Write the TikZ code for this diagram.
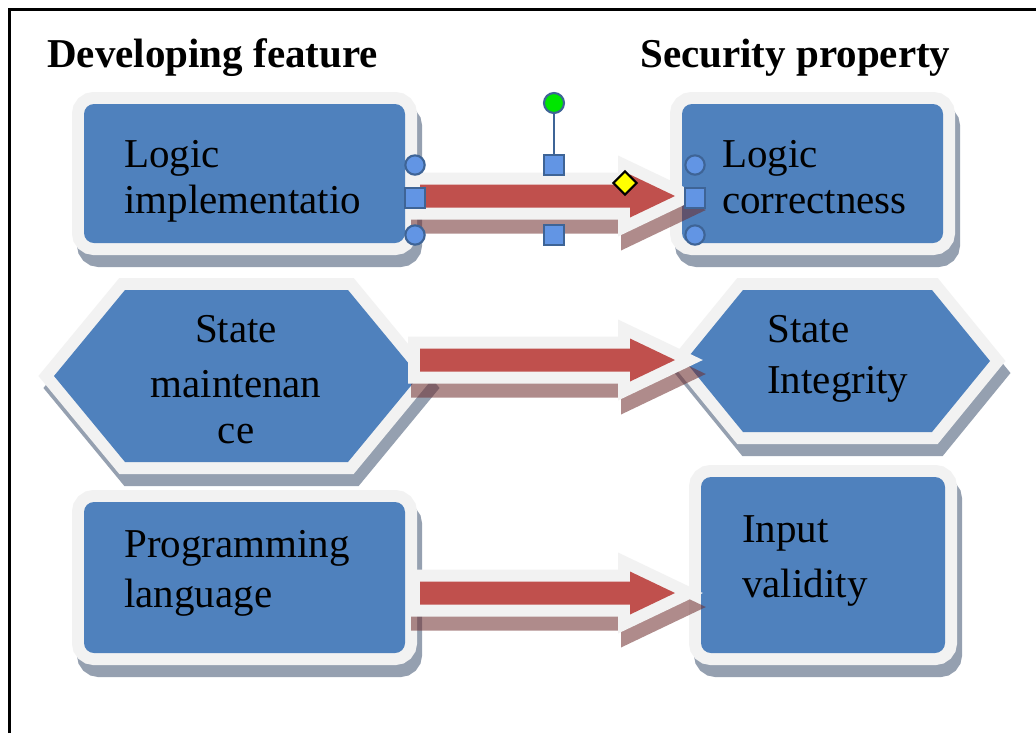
\documentclass[tikz,border=0pt]{standalone}
\usepackage{fontspec}
\setmainfont{Liberation Serif}
\usetikzlibrary{calc,fit,shapes.geometric}
\definecolor{boxblue}{RGB}{79,129,189}
\definecolor{arrred}{RGB}{192,80,77}
\definecolor{rimwhite}{RGB}{242,242,242}
\definecolor{boxshadow}{RGB}{149,160,176}
\definecolor{arrshadow}{RGB}{110,45,45}
\definecolor{hfill}{RGB}{98,149,228}
\definecolor{hborder}{RGB}{62,100,150}
\definecolor{rotgreen}{RGB}{0,230,0}
\definecolor{adjyellow}{RGB}{255,255,0}
\tikzset{
  blueshape/.style={fill=boxblue,
     preaction={fill=boxshadow, draw=boxshadow, line width=18pt, transform canvas={shift={(5,12)}}},
     preaction={draw=rimwhite, line width=18pt}},
  roundbox/.style={blueshape, rounded corners=7.5pt, inner sep=0pt, draw=none},
  boxtext/.style={inner sep=0pt, anchor=base west, font=\fontsize{30.75}{34.5}\selectfont},
  headtext/.style={inner sep=0pt, anchor=base west, font=\bfseries\fontsize{30.75}{34.5}\selectfont},
  hcirc/.style={circle, fill=hfill, draw=hborder, line width=1.6pt, minimum size=14.5pt, inner sep=0pt},
  hsq/.style={rectangle, fill=hfill, draw=hborder, line width=1.6pt, minimum size=15pt, inner sep=0pt},
  hrot/.style={circle, fill=rotgreen, draw=hborder, line width=1.6pt, minimum size=15pt, inner sep=0pt},
  hadj/.style={diamond, fill=adjyellow, draw=black, line width=1.6pt, minimum width=18pt, minimum height=18pt, inner sep=0pt},
  frame/.style={line width=2.25pt, black}
}
\newcommand\blockarrow[2]{%
  \fill[arrshadow, opacity=.55] ($(#1)+(-9,-9.5)$) -- ($(#2)+(-54,-9.5)$) -- ($(#2)+(-54,-26.5)$) -- ($(#2)+(30.8,14)$) -- ($(#2)+(-54,54.5)$) -- ($(#2)+(-54,37.5)$) -- ($(#1)+(-9,37.5)$) -- cycle;
  \fill[rimwhite] ($(#1)+(-12,-23.5)$) -- ($(#2)+(-57,-23.5)$) -- ($(#2)+(-57,-40.5)$) -- ($(#2)+(27.8,0)$) -- ($(#2)+(-57,40.5)$) -- ($(#2)+(-57,23.5)$) -- ($(#1)+(-12,23.5)$) -- cycle;
  \fill[arrred] ($(#1)+(0,-11.5)$) -- ($(#2)+(-45,-11.5)$) -- ($(#2)+(-45,-21.5)$) -- (#2) -- ($(#2)+(-45,21.5)$) -- ($(#2)+(-45,11.5)$) -- ($(#1)+(0,11.5)$) -- cycle;
}
\begin{document}
\begin{tikzpicture}[x=0.75pt,y=-0.75pt]
\useasboundingbox (0,0) rectangle (1036,733);
\fill[white] (0,0) rectangle (1036,733);
% frame
\draw[frame] (9.5,733) -- (9.5,9.5) -- (1036,9.5);
% titles
\node[headtext] (hl) at (47,67) {Developing feature};
\node[headtext] (hr) at (640,67) {Security property};
% left column
\node[roundbox, fit={(84,104) (405,243)}] (lb1) {};
\path[blueshape] (54,376) -- (125,290) -- (348,290) -- (419,376) -- (348,462) -- (125,462) -- cycle;
\node[roundbox, fit={(84,502) (405,653)}] (lb3) {};
% right column
\node[roundbox, fit={(682,104) (943,243)}] (rb1) {};
\path[blueshape] (685,361) -- (743,290) -- (932,290) -- (990,361) -- (932,432) -- (743,432) -- cycle;
\node[roundbox, fit={(701,477) (945,653)}] (rb3) {};
% texts
\node[boxtext] (t1) at (124,167) {\begin{tabular}[t]{@{}l@{}}Logic\\implementatio\end{tabular}};
\node[boxtext, anchor=base] (t2) at (236,342) {\begin{tabular}[t]{@{}c@{}}State\\[6.75pt]maintenan\\ce\end{tabular}};
\node[boxtext] (t3) at (124,557) {\begin{tabular}[t]{@{}l@{}}Programming\\[3pt]language\end{tabular}};
\node[boxtext] (t4) at (722,167) {\begin{tabular}[t]{@{}l@{}}Logic\\correctness\end{tabular}};
\node[boxtext] (t5) at (767,342) {\begin{tabular}[t]{@{}l@{}}State\\[3.75pt]Integrity\end{tabular}};
\node[boxtext] (t6) at (742,542) {\begin{tabular}[t]{@{}l@{}}Input\\[6.75pt]validity\end{tabular}};
% arrows
\coordinate (a1s) at (420,196);
\coordinate (a1t) at (675,196);
\coordinate (a2s) at (420,360);
\coordinate (a2t) at (675,360);
\coordinate (a3s) at (420,593);
\coordinate (a3t) at (675,593);
\blockarrow{a1s}{a1t}
\blockarrow{a2s}{a2t}
\blockarrow{a3s}{a3t}
% selection handles of the first arrow
\node[hrot] (hrot) at (554,103) {};
\node[hsq] (htop) at (554,165) {};
\draw[hborder, line width=1.6pt] (hrot) -- (htop);
\node[hsq] (hbot) at (554,235) {};
\node[hcirc] (hlt) at (415,165) {};
\node[hsq] (hlm) at (415,198) {};
\node[hcirc] (hlb) at (415,235) {};
\node[hcirc] (hrt) at (695,165) {};
\node[hsq] (hrm) at (695,198) {};
\node[hcirc] (hrb) at (695,235) {};
\node[hadj] (hadj) at (625,183) {};
\end{tikzpicture}
\end{document}
